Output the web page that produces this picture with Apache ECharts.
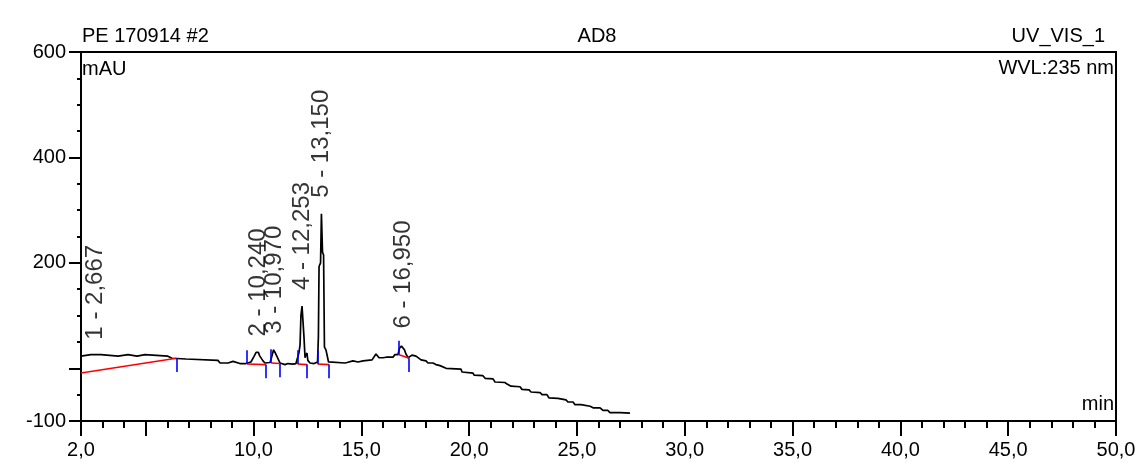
<!DOCTYPE html>
<html>
<head>
<meta charset="utf-8">
<script src="https://cdn.jsdelivr.net/npm/echarts@6/dist/echarts.min.js"></script>
<style>
html,body{margin:0;padding:0;background:#fff;}
#chart{width:1142px;height:474px;}
</style>
</head>
<body>
<div id="chart"></div>
<script>
// ---- data ----
const times = [2.00,2.46,2.93,3.02,3.72,3.81,4.18,4.27,4.60,4.69,4.97,5.06,6.03,6.22,6.87,6.96,8.35,8.45,8.82,8.91,9.05,9.14,9.37,9.65,9.70,9.88,10.02,10.12,10.23,10.28,10.35,10.44,10.53,10.77,10.86,10.93,11.00,11.07,11.14,11.23,11.32,11.46,11.60,11.69,11.83,11.97,12.04,12.11,12.16,12.20,12.25,12.30,12.34,12.39,12.43,12.48,12.52,12.62,12.81,12.90,12.97,13.01,13.04,13.11,13.15,13.20,13.25,13.29,13.36,13.41,13.48,13.55,14.24,14.34,14.38,14.61,14.66,14.85,14.89,15.08,15.12,15.50,15.59,15.68,15.73,15.82,16.01,16.15,16.47,16.56,16.70,16.77,16.86,16.93,17.00,17.07,17.17,17.26,17.35,17.44,17.54,17.63,17.77,18.00,18.09,18.32,18.46,18.65,18.93,18.97,19.62,19.67,20.18,20.23,20.64,20.74,21.11,21.20,21.66,21.76,21.85,21.94,22.36,22.45,22.78,22.87,23.29,23.38,23.61,23.70,24.12,24.21,24.49,24.59,24.82,24.91,25.19,25.28,25.61,25.75,26.07,26.21,26.44,26.53,27.00,27.09,27.46];
const signal = [23,26,26,23,23,26,26,23,23,26,26,23,23,19,17.6,15,15,10,10,13,13,10,9,9,10,12,22,30,30,24,25,14,10,11,24,35,30,27,18,10,9,7,9,7,8,9,12,30,45,100,118,117,60,20,25,29,15,10,9,10,12,60,193,200,293,220,215,40,35,38,12,10,10,11,14,14,12,12,14,14,16,16,19.5,27,29,20,20,21,21,26,26,38,42,45,35,27,20,18,25,28,23,22,16,14,10,10,7,5,0,-1,-1.5,-7,-9,-13,-14,-19,-20,-26,-27,-30,-27,-34,-35,-40,-41,-45,-46,-50,-50,-56,-57,-60,-60,-64,-64,-69,-69,-72,-72,-75,-75,-80,-80,-84,-84,-85,-85];

// peaks: retention time (min) and apex height (mAU)
const peakNo   = [1, 2, 3, 4, 5, 6];
const peakRT   = [2.667, 10.240, 10.970, 12.253, 13.150, 16.950];
const peakApex = [24, 30, 35, 118, 293, 45];
// integration limits (min) and baseline levels (mAU)
const startT = [2.00, 9.70, 10.82, 12.04, 12.97, 16.72];
const startV = [-9, 8, 10, 8, 8, 26];
const endT   = [6.42, 10.57, 11.20, 12.49, 13.51, 17.22];
const endV   = [19, 7, 9, 7, 7, 19];

// axes
const xMin = 2, xMax = 50, yMin = -100, yMax = 600;
const xLabelValues = [2, 10, 15, 20, 25, 30, 35, 40, 45, 50];
const xMajorTicks  = [2, 5, 10, 15, 20, 25, 30, 35, 40, 45, 50];
const yLabelValues = [-100, 200, 400, 600];
const yMajorTicks  = [-100, 0, 200, 400, 600];

// header texts
const titleLeft = 'PE 170914 #2', titleMid = 'AD8', titleRight = 'UV_VIS_1';
const yUnit = 'mAU', wvl = 'WVL:235 nm', xUnit = 'min';

// ---- build ----
const FONT = "'Liberation Sans',Arial,sans-serif";
const comma = (v, d) => v.toFixed(d).replace('.', ',');

const trace = times.map((t, i) => [t, signal[i]]);
const baselines = startT.map((t, i) => ({coords: [[t, startV[i]], [endT[i], endV[i]]]}));
const MARK = 26;
const markers = [];
startT.forEach((t, i) => { if (t > xMin) markers.push({coords: [[t, startV[i]], [t, startV[i] + MARK]]}); });
endT.forEach((t, i) => markers.push({coords: [[t, endV[i]], [t, endV[i] - MARK]]}));
const labelPts = peakRT.map((t, i) => ({value: [t, peakApex[i]], name: peakNo[i] + ' - ' + comma(t, 3)}));

const chart = echarts.init(document.getElementById('chart'));
const txt = (text, x, y, align) => ({type: 'text', x: x, y: y,
  style: {text: text, font: '20px ' + FONT, fill: '#000', textAlign: align, textVerticalAlign: 'middle'}});
chart.setOption({
  animation: false,
  backgroundColor: '#fff',
  grid: {left: 81, right: 26, top: 52, bottom: 53, show: true, borderColor: '#000', borderWidth: 2, containLabel: false},
  xAxis: [
    {type: 'value', min: xMin, max: xMax, interval: 1, position: 'bottom',
     axisLine: {show: true, onZero: false, lineStyle: {color: '#000', width: 2}},
     axisTick: {show: true, length: 7, lineStyle: {color: '#000', width: 2}},
     axisLabel: {show: false}, splitLine: {show: false}},
    {type: 'value', min: xMin, max: xMax, position: 'bottom',
     axisLine: {show: false, onZero: false},
     axisTick: {show: true, length: 15, customValues: xMajorTicks, lineStyle: {color: '#000', width: 2}},
     axisLabel: {show: true, customValues: xLabelValues, margin: 19, color: '#000', fontFamily: FONT, fontSize: 20,
                 formatter: v => comma(v, 1)},
     splitLine: {show: false}}
  ],
  yAxis: [
    {type: 'value', min: yMin, max: yMax, interval: 50, position: 'left',
     axisLine: {show: true, onZero: false, lineStyle: {color: '#000', width: 2}},
     axisTick: {show: true, length: 4, lineStyle: {color: '#000', width: 2}},
     axisLabel: {show: false}, splitLine: {show: false}},
    {type: 'value', min: yMin, max: yMax, position: 'left',
     axisLine: {show: false, onZero: false},
     axisTick: {show: true, length: 12, customValues: yMajorTicks, lineStyle: {color: '#000', width: 2}},
     axisLabel: {show: true, customValues: yLabelValues, margin: 15, color: '#000', fontFamily: FONT, fontSize: 20},
     splitLine: {show: false}}
  ],
  series: [
    {type: 'line', name: 'signal', data: trace, xAxisIndex: 0, yAxisIndex: 0, symbol: 'none',
     lineStyle: {color: '#000', width: 1.7}, z: 3, silent: true},
    {type: 'lines', coordinateSystem: 'cartesian2d', xAxisIndex: 0, yAxisIndex: 0, data: baselines,
     lineStyle: {color: '#ff0000', width: 1.6, opacity: 1}, z: 4, silent: true},
    {type: 'lines', coordinateSystem: 'cartesian2d', xAxisIndex: 0, yAxisIndex: 0, data: markers,
     lineStyle: {color: '#0000ff', width: 1.6, opacity: 1}, z: 5, silent: true},
    {type: 'scatter', data: labelPts, xAxisIndex: 0, yAxisIndex: 0, symbolSize: 0, silent: true, z: 6,
     label: {show: true, position: 'top', distance: 16, rotate: 90, align: 'left', verticalAlign: 'middle',
             formatter: p => p.name, color: '#000', fontFamily: FONT, fontSize: 24}}
  ],
  graphic: [
    txt(titleLeft, 82, 36, 'left'),
    txt(titleMid, 597, 36, 'center'),
    txt(titleRight, 1105, 36, 'right'),
    txt(yUnit, 82, 69, 'left'),
    txt(wvl, 1114, 68, 'right'),
    txt(xUnit, 1114, 404, 'right')
  ]
});
</script>
</body>
</html>
